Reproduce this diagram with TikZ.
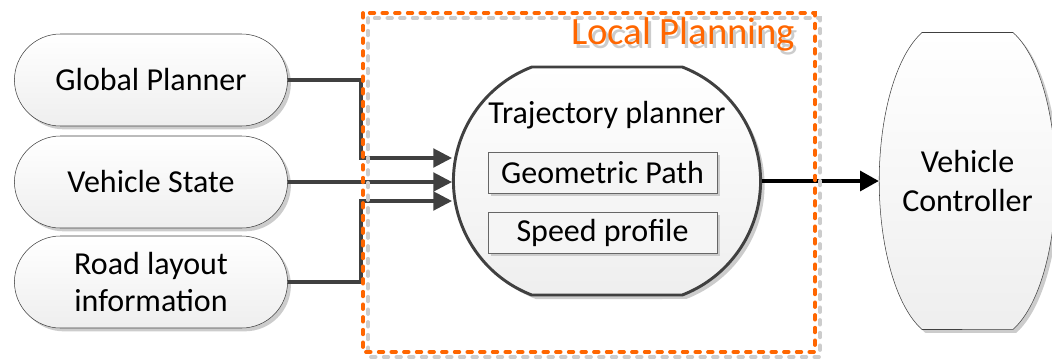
\documentclass[tikz,border=0pt]{standalone}
\usepackage{fontspec}
\setmainfont{Carlito}
\usepackage{tikz}
\usetikzlibrary{calc,shapes.misc,shadows,arrows.meta}
\definecolor{planorange}{RGB}{255,102,0}
\definecolor{lineg}{RGB}{64,64,64}
\definecolor{shadowg}{RGB}{204,204,204}
\newcommand\inputpill[3]{
  \node[pill] (#1) at (#2) {#3};
}
\newcommand\subbox[3]{
  \node[partbox] (#1) at (#2) {#3};
}

\begin{document}
\begin{tikzpicture}[x=0.75pt,y=-0.75pt,
    every node/.style={font=\fontsize{24}{27.5}\selectfont},
    pill/.style={rounded rectangle, draw=lineg, thin, top color=white, bottom color=gray!13,
      minimum width=211.5pt, minimum height=69pt, align=center,
      general shadow={fill=shadowg, shadow xshift=2.5pt, shadow yshift=-2.5pt}},
    planner/.style={rounded rectangle, rounded rectangle arc length=138, draw=lineg, line width=2.2pt,
      top color=white, bottom color=gray!13, minimum width=237pt, minimum height=171pt,
      general shadow={fill=shadowg, shadow xshift=3pt, shadow yshift=-3pt}},
    ctrlshape/.style={draw=lineg, thin, top color=white, bottom color=gray!13,
      general shadow={fill=shadowg, shadow xshift=2.5pt, shadow yshift=-2.5pt}},
    ctrlbox/.style={minimum width=132.75pt, minimum height=222.75pt, inner sep=0pt, align=center,
      font=\fontsize{24}{29}\selectfont},
    partbox/.style={draw=gray!80!black, thin, fill=gray!8, minimum width=171.75pt, minimum height=30.75pt,
      general shadow={fill=shadowg, shadow xshift=2pt, shadow yshift=-2pt}},
    conn/.style={draw=lineg, line width=2.3pt, -{Triangle[length=14pt,width=14pt]}},
    outarrow/.style={draw=black, line width=2.3pt, -{Triangle[length=14pt,width=15pt]}},
    localbox/.style={line width=2.8pt, dash pattern=on 3.5pt off 6pt, line cap=round}]
  \useasboundingbox (0,0) rectangle (1052,361);

  \inputpill{gp}{151,80}{Global Planner}
  \inputpill{vs}{151,182}{Vehicle State}
  \inputpill{rl}{151,282}{Road layout\\information}

  \node[planner] (tp) at (607,181) {};
  \node (tptitle) at (607,115) {Trajectory planner};
  \subbox{geo}{602.5,172.5}{Geometric Path}
  \subbox{speed}{602.5,232.5}{Speed profile}

  % controller outline: flat top and bottom, bowed sides
  \coordinate (vcc) at (967.5,181);
  \path[ctrlshape] ($(vcc)+(-45.5,-148.5)$) -- ($(vcc)+(45.5,-148.5)$)
    arc[start angle=70, end angle=-70, x radius=48.75pt, y radius=118.5pt]
    -- ($(vcc)+(-45.5,148.5)$)
    arc[start angle=250, end angle=110, x radius=48.75pt, y radius=118.5pt] -- cycle;
  \node[ctrlbox] (vc) at (vcc) {Vehicle\\Controller};

  \coordinate (jup) at (361,158);
  \coordinate (jlo) at (361,201);
  \draw[conn] (gp.east) -| (jup) -- (jup -| tp.west);
  \draw[conn] (vs.east) -- (vs.east -| tp.west);
  \draw[conn] (rl.east) -| (jlo) -- (jlo -| tp.west);
  \draw[outarrow] (tp.east) -- (tp.east -| vc.west);

  \draw[localbox, shadowg] (368,18) rectangle (820,357);
  \draw[localbox, planorange] (363,13) rectangle (815,352);
  \node[anchor=base east, text=shadowg, font=\fontsize{29}{34}\selectfont] (lpshadow) at (803,48) {Local Planning};
  \node[anchor=base east, text=planorange, font=\fontsize{29}{34}\selectfont] (lp) at (800,44) {Local Planning};
\end{tikzpicture}
\end{document}
